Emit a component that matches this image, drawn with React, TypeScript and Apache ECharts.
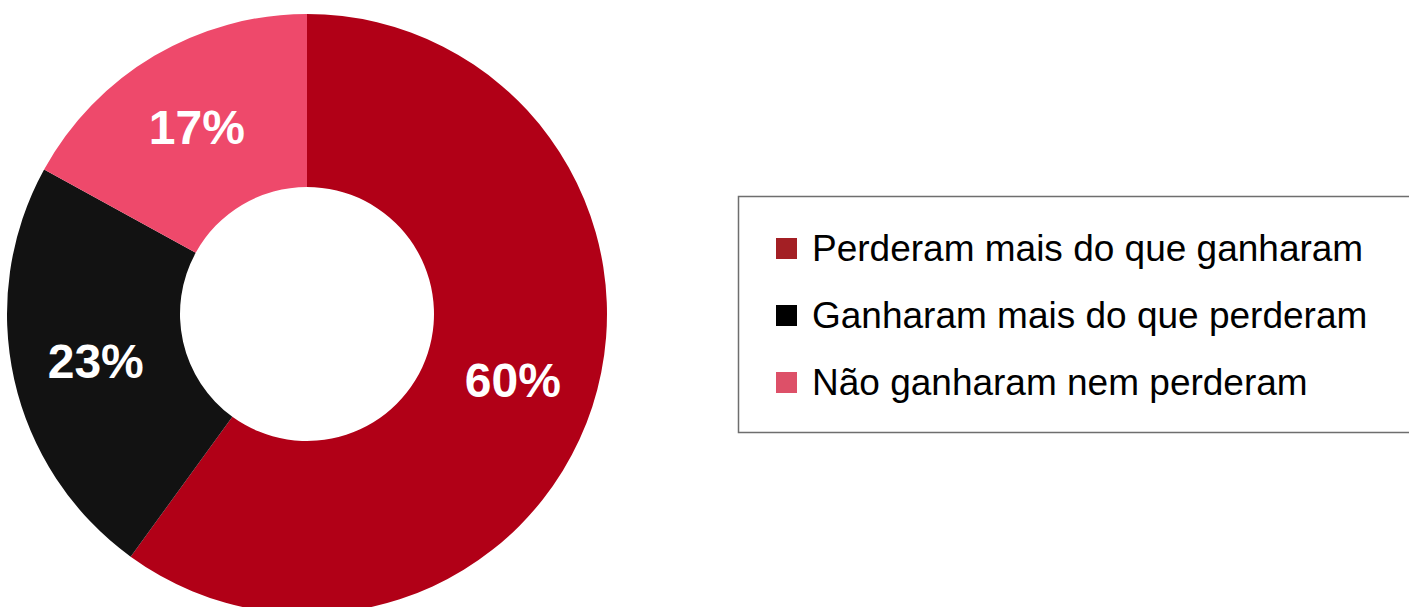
import React, { useEffect, useRef } from "react";
import * as echarts from "echarts";

const categories = [
  "Perderam mais do que ganharam",
  "Ganharam mais do que perderam",
  "Não ganharam nem perderam",
];
const values = [60, 23, 17];
const sliceColors = ["#b10017", "#121212", "#ee496b"];
const legendColors = ["#a31f24", "#000000", "#dd5068"];

export default function App() {
  const ref = useRef<HTMLDivElement>(null);
  useEffect(() => {
    document.body.style.margin = "0";
    if (!ref.current) return;
    const chart = echarts.init(ref.current, undefined, { renderer: "svg" });
    chart.setOption({
      animation: false,
      backgroundColor: "#ffffff",
      graphic: [
        {
          type: "rect",
          shape: { x: 738.5, y: 196.5, width: 720, height: 236 },
          style: { fill: "none", stroke: "#6e6e6e", lineWidth: 1.5 },
          z: -1,
        },
      ],
      legend: {
        orient: "vertical",
        left: 771,
        top: 225,
        itemWidth: 21,
        itemHeight: 21,
        itemGap: 30,
        icon: "rect",
        selectedMode: false,
        textStyle: {
          fontFamily: "Liberation Sans, Arial, sans-serif",
          fontSize: 37,
          color: "#000000",
          padding: [0, 0, 0, 10],
        },
        data: categories.map((name, i) => ({
          name,
          itemStyle: { color: legendColors[i] },
        })),
      },
      series: [
        {
          type: "pie",
          center: [307, 314],
          radius: [127, 300],
          startAngle: 90,
          clockwise: true,
          silent: true,
          avoidLabelOverlap: false,
          label: {
            show: true,
            position: "inside",
            formatter: "{c}%",
            color: "#ffffff",
            fontFamily: "Liberation Sans, Arial, sans-serif",
            fontWeight: "bold",
            fontSize: 48,
          },
          labelLine: { show: false },
          itemStyle: { borderWidth: 0 },
          data: categories.map((name, i) => ({
            name,
            value: values[i],
            itemStyle: { color: sliceColors[i] },
          })),
        },
      ],
    });
    return () => chart.dispose();
  }, []);
  return <div ref={ref} style={{ width: 1409, height: 607 }} />;
}
